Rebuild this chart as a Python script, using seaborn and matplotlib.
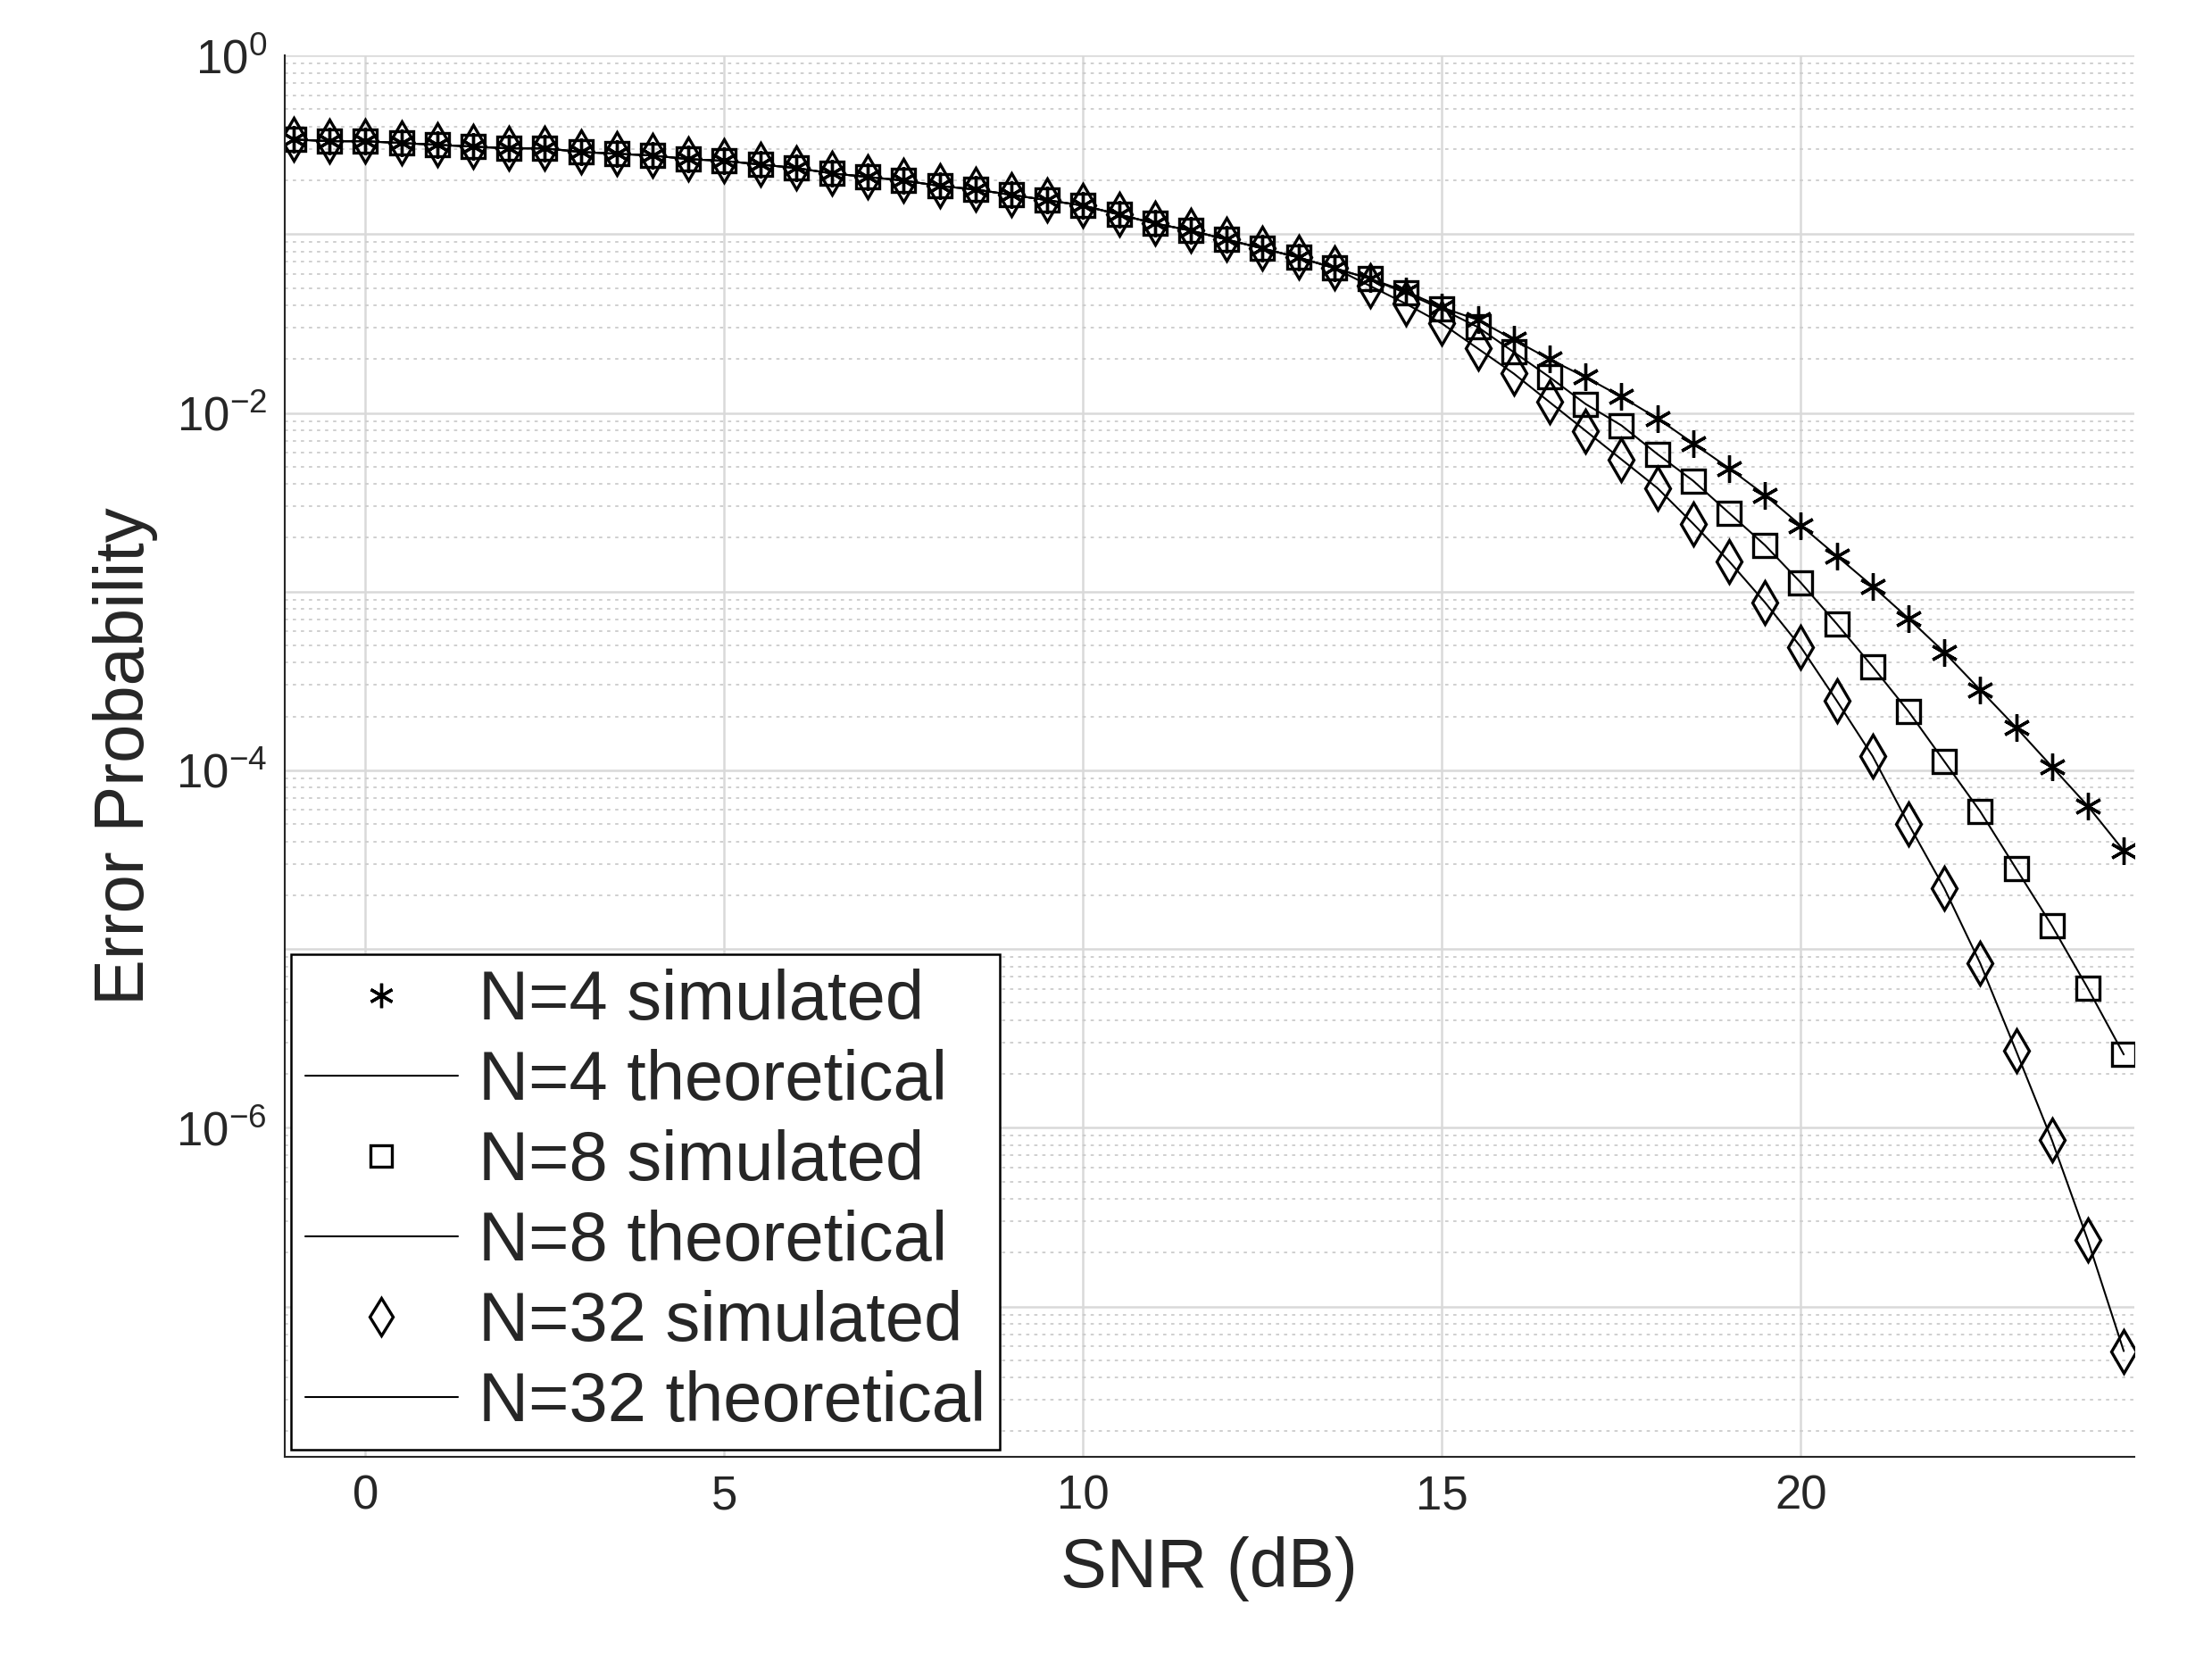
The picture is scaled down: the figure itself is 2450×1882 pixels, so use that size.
import numpy as np
import matplotlib
matplotlib.use("Agg")
import matplotlib.pyplot as plt
import seaborn as sns
from matplotlib.ticker import LogLocator, FixedLocator, NullFormatter

sns.set_style("white")
plt.rcParams['font.family'] = ['Liberation Sans', 'DejaVu Sans']
plt.rcParams['mathtext.fontset'] = 'custom'
plt.rcParams['mathtext.rm'] = 'Liberation Sans'

# SNR grid (dB)
snr = np.arange(-1, 25, 0.5)

# shared part of the curves, -1 .. 13.5 dB (log10 of error probability)
common_log = [-0.47, -0.48, -0.48, -0.49, -0.50, -0.51, -0.52, -0.52, -0.54, -0.55,
              -0.56, -0.58, -0.59, -0.61, -0.63, -0.66, -0.68, -0.70, -0.73, -0.75,
              -0.78, -0.81, -0.84, -0.89, -0.94, -0.98, -1.03, -1.08, -1.13, -1.19]
# 14 .. 24.5 dB
n4_log = [-1.25, -1.32, -1.41, -1.48, -1.59, -1.70, -1.80, -1.91, -2.03, -2.17, -2.31,
          -2.46, -2.63, -2.80, -2.97, -3.15, -3.34, -3.55, -3.76, -3.98, -4.20, -4.45]
n8_log = [-1.25, -1.33, -1.42, -1.52, -1.66, -1.80, -1.95, -2.07, -2.23, -2.38, -2.56,
          -2.74, -2.95, -3.18, -3.42, -3.67, -3.95, -4.23, -4.55, -4.87, -5.22, -5.59]
n32_log = [-1.29, -1.39, -1.50, -1.64, -1.78, -1.94, -2.10, -2.26, -2.42, -2.62, -2.83,
           -3.06, -3.31, -3.61, -3.92, -4.30, -4.66, -5.08, -5.57, -6.07, -6.63, -7.25]

series = [("N=4", n4_log, (6, 2, 0), 22), ("N=8", n8_log, "s", 19), ("N=32", n32_log, "d", 24)]

fig = plt.figure(figsize=(24.5, 18.82), dpi=100)
ax = fig.add_axes([0.130, 0.133, 0.846, 0.834])

for name, tail, mk, ms in series:
    pe = np.power(10.0, np.array(common_log + tail))
    sns.lineplot(x=snr, y=pe, ax=ax, marker=mk, linestyle="", color="k",
                 markerfacecolor="none", markeredgecolor="k", markeredgewidth=2.4,
                 markersize=ms, label=f"{name} simulated")
    sns.lineplot(x=snr, y=pe, ax=ax, color="k", linewidth=1.5,
                 label=f"{name} theoretical")

ax.set_yscale("log")
ax.set_xlim(-1.13, 24.65)
ax.set_ylim(10 ** -7.84, 1.0)
ax.set_xticks([0, 5, 10, 15, 20])
ax.yaxis.set_major_locator(FixedLocator([10.0 ** k for k in range(-7, 1)]))
ax.set_yticklabels(["", r"$10^{-6}$", "", r"$10^{-4}$", "", r"$10^{-2}$", "", r"$10^{0}$"])
ax.yaxis.set_minor_locator(LogLocator(base=10, subs=np.arange(2, 10), numticks=20))
ax.yaxis.set_minor_formatter(NullFormatter())
ax.grid(True, which="major", color="#d9d9d9", linewidth=1.8, linestyle="-")
ax.grid(True, which="minor", axis="y", color="#cccccc", linewidth=1.3, linestyle=(0, (2, 3)))
ax.tick_params(axis="both", which="major", labelsize=38, direction="in", length=10, width=1.5,
               colors="#262626", pad=14)
ax.tick_params(axis="y", which="minor", direction="in", length=5)
for side in ["top", "right"]:
    ax.spines[side].set_visible(False)
for side in ["left", "bottom"]:
    ax.spines[side].set_color("#262626")
    ax.spines[side].set_linewidth(1.5)

ax.set_xlabel("SNR (dB)", fontsize=56, color="#262626", labelpad=14)
ax.set_ylabel("Error Probability", fontsize=56, color="#262626", labelpad=14)

leg = ax.legend(loc="lower left", fontsize=56, frameon=True, fancybox=False,
                borderaxespad=0.1, handlelength=2.2, handletextpad=0.3,
                labelspacing=0.22, borderpad=0.2, markerscale=0.9)
leg.get_frame().set_edgecolor("k")
leg.get_frame().set_linewidth(1.8)
leg.get_frame().set_alpha(1)

fig.savefig("out.png", dpi=100)
